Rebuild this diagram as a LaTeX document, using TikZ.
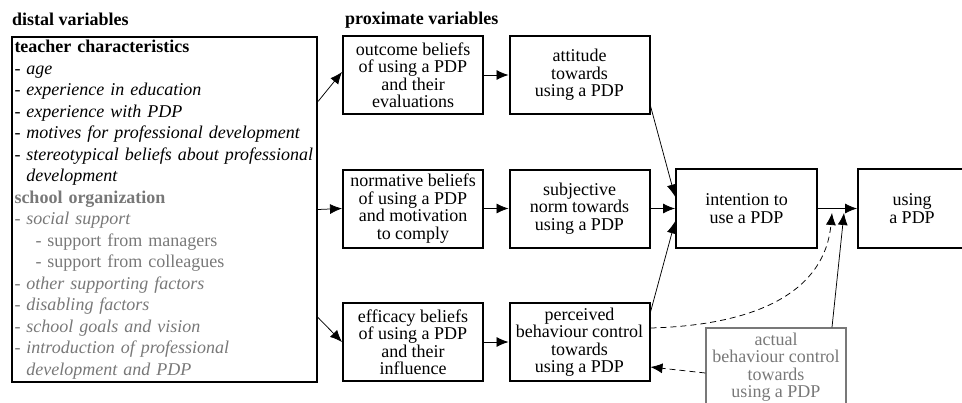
\documentclass[tikz,border=0pt]{standalone}
\usepackage{fontspec}
\setmainfont{Liberation Serif}
\usetikzlibrary{arrows.meta}
\definecolor{faded}{gray}{0.47}
\newcommand{\bw}{140pt}
\newcommand{\bh}{78pt}

\begin{document}
\begin{tikzpicture}[x=1pt,y=-1pt,
    box/.style={draw, rectangle, line width=2pt, minimum width=\bw, minimum height=\bh, inner sep=0pt, align=center, font=\fontsize{18}{17.5}\selectfont},
    arr/.style={-{Latex[length=12pt,width=10pt]}, line width=0.75pt},
    dasharr/.style={arr, dashed, dash pattern=on 6pt off 4pt}]
    \useasboundingbox (0,0) rectangle (962,402);

    % Headings
    \node[anchor=base west, inner sep=0pt, font=\fontsize{18}{21}\selectfont\bfseries] (distal-title) at (12,25) {distal variables};
    \node[anchor=base west, inner sep=0pt, font=\fontsize{18}{21}\selectfont\bfseries] (prox-title) at (345,24) {proximate variables};

    % Distal variables
    \node[draw, rectangle, line width=2pt, anchor=north west, minimum width=305pt, minimum height=345pt, text width=300pt, inner xsep=2.5pt, inner ysep=0pt, align=left, font=\fontsize{18}{21.5}\selectfont] (distal) at (11,36) {%
        \textbf{teacher characteristics}\\
        \textit{- age}\\
        \textit{- experience in education}\\
        \textit{- experience with PDP}\\
        \textit{- motives for professional development}\\
        \mbox{\textit{- stereotypical beliefs about professional}}\\
        \textit{\phantom{- }development}\\
        \textcolor{faded}{\textbf{school organization}}\\
        \textcolor{faded}{\textit{- social support}}\\
        \textcolor{faded}{\hspace*{21pt}- support from managers}\\
        \textcolor{faded}{\hspace*{21pt}- support from colleagues}\\
        \textcolor{faded}{\textit{- other supporting factors}}\\
        \textcolor{faded}{\textit{- disabling factors}}\\
        \textcolor{faded}{\textit{- school goals and vision}}\\
        \textcolor{faded}{\textit{- introduction of professional}}\\
        \textcolor{faded}{\textit{\phantom{- }development and PDP}}};

    % First column
    \node[box] (outcome) at (413,75) {outcome beliefs\\of using a PDP\\and their\\evaluations};
    \node[box] (normative) at (413,208.5) {normative beliefs\\of using a PDP\\and motivation\\to comply};
    \node[box] (efficacy) at (413,342) {efficacy beliefs\\of using a PDP\\and their\\influence};

    % Second column
    \node[box] (attitude) at (579.5,75) {attitude\\towards\\using a PDP};
    \node[box] (subjective) at (579.5,208.5) {subjective\\norm towards\\using a PDP};
    \node[box] (perceived) at (579.5,342) {perceived\\behaviour control\\towards\\using a PDP};

    % Intention and behaviour
    \node[box, minimum width=141pt, minimum height=79pt] (intention) at (746.5,208.5) {intention to\\use a PDP};
    \node[box, minimum width=108pt, minimum height=79pt] (using) at (912,208.5) {using\\a PDP};
    \node[box, draw=faded, text=faded, line width=1.4pt] (actual) at (776,367) {actual\\behaviour control\\towards\\using a PDP};

    \coordinate (tip-dash) at (832,213);
    \coordinate (tip-solid) at (844,213);

    % Connectors
    \draw[arr] ([yshift=108pt]distal.east) -- ([yshift=3pt]outcome.west);
    \draw[arr] (distal.east) -- (normative.west);
    \draw[arr] ([yshift=-108pt]distal.east) -- (efficacy.west);

    \draw[arr] (outcome) -- (attitude);
    \draw[arr] (normative) -- (subjective);
    \draw[arr] (efficacy) -- (perceived);

    \draw[arr] ([yshift=9pt]attitude.south east) -- ([yshift=12pt]intention.west);
    \draw[arr] (subjective) -- (intention);
    \draw[arr] ([yshift=-10pt]perceived.north east) -- ([yshift=-13pt]intention.west);
    \draw[arr] (intention) -- (using);

    \draw[dasharr] ([yshift=14pt]perceived.east) .. controls (760,325) and (825,290) .. (tip-dash);
    \draw[arr] ([xshift=56pt]actual.north) -- (tip-solid);
    \draw[dasharr] ([yshift=-6pt]actual.west) -- ([yshift=-25pt]perceived.east);

\end{tikzpicture}
\end{document}
